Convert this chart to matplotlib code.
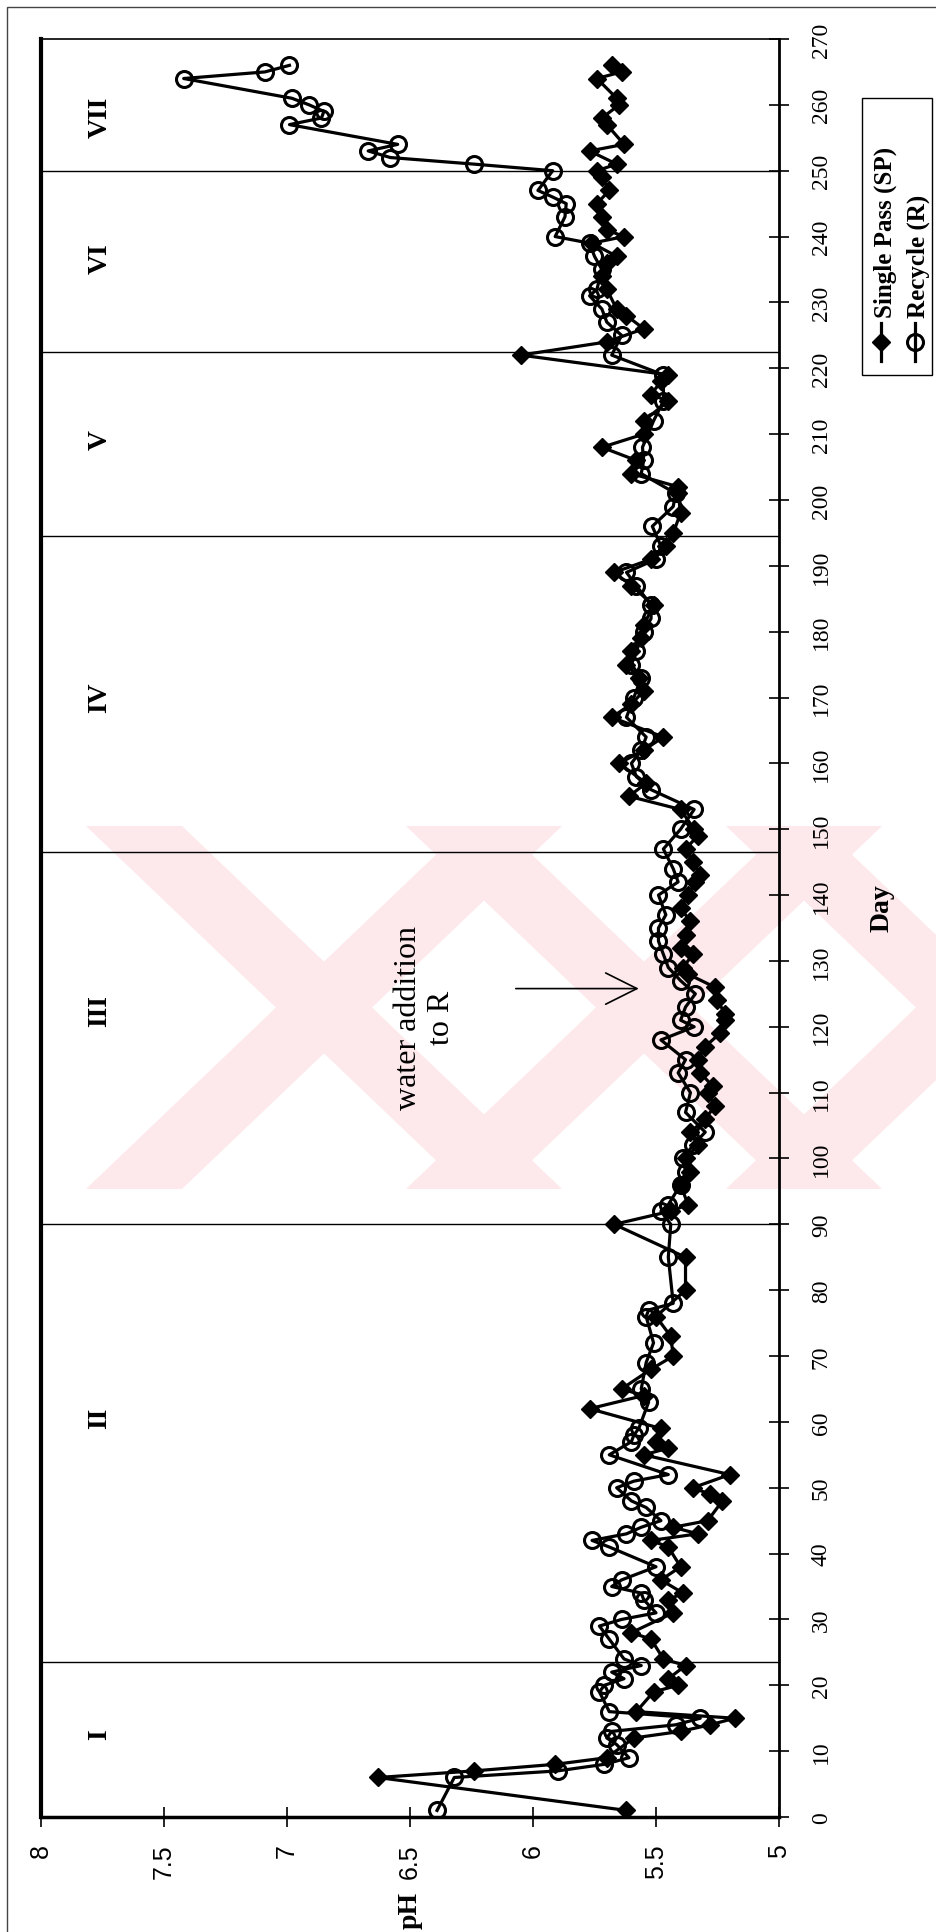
import matplotlib
matplotlib.use("Agg")
import matplotlib.pyplot as plt
from matplotlib.patches import Rectangle, Polygon
from matplotlib.lines import Line2D

W, H = 937, 1933

# ---- data ----
SP_DAY = [1, 6, 7, 8, 9, 12, 13, 14, 15, 16, 19, 20, 21, 23, 24, 27, 28, 31, 33, 34,
          36, 38, 41, 42, 43, 44, 45, 48, 49, 50, 52, 55, 56, 57, 59, 62, 64, 65, 68, 70,
          73, 76, 80, 85, 90, 92, 93, 96, 98, 100, 102, 104, 106, 108, 110, 111, 113, 115, 117, 119,
          121, 122, 124, 126, 128, 129, 131, 132, 134, 136, 138, 140, 142, 143, 145, 147, 149, 150, 153, 155,
          157, 160, 162, 164, 167, 169, 171, 173, 175, 177, 179, 181, 184, 187, 189, 191, 193, 195, 198, 201,
          202, 204, 206, 208, 210, 212, 215, 216, 218, 219, 222, 224, 226, 228, 229, 232, 234, 236, 237, 239,
          240, 241, 243, 245, 247, 249, 250, 251, 253, 254, 257, 258, 260, 261, 264, 265, 266]
SP_PH = [5.62, 6.63, 6.24, 5.91, 5.70, 5.59, 5.40, 5.28, 5.18, 5.58, 5.51, 5.41, 5.45, 5.38, 5.47, 5.52, 5.60, 5.43, 5.45, 5.39,
         5.48, 5.40, 5.45, 5.52, 5.33, 5.43, 5.29, 5.23, 5.28, 5.35, 5.20, 5.55, 5.45, 5.50, 5.48, 5.77, 5.55, 5.64, 5.52, 5.43,
         5.44, 5.50, 5.38, 5.38, 5.67, 5.44, 5.37, 5.40, 5.36, 5.38, 5.33, 5.36, 5.30, 5.26, 5.29, 5.27, 5.32, 5.33, 5.30, 5.24,
         5.22, 5.22, 5.25, 5.26, 5.37, 5.39, 5.35, 5.40, 5.38, 5.36, 5.40, 5.37, 5.34, 5.32, 5.35, 5.38, 5.33, 5.345, 5.40, 5.61,
         5.54, 5.65, 5.55, 5.47, 5.68, 5.60, 5.55, 5.57, 5.62, 5.60, 5.56, 5.55, 5.51, 5.60, 5.67, 5.52, 5.46, 5.43, 5.40, 5.41,
         5.41, 5.60, 5.58, 5.72, 5.55, 5.55, 5.45, 5.52, 5.48, 5.45, 6.05, 5.70, 5.55, 5.62, 5.66, 5.70, 5.72, 5.70, 5.66, 5.76,
         5.63, 5.70, 5.72, 5.74, 5.69, 5.72, 5.74, 5.66, 5.77, 5.63, 5.70, 5.72, 5.65, 5.66, 5.74, 5.64, 5.68]

R_DAY = [1, 6, 7, 8, 9, 11, 12, 13, 14, 15, 16, 19, 20, 21, 22, 23, 24, 27, 29, 30,
         31, 33, 34, 35, 36, 38, 41, 42, 43, 44, 45, 47, 48, 50, 51, 52, 55, 57, 58, 59,
         63, 65, 69, 72, 76, 77, 78, 85, 90, 92, 93, 96, 98, 100, 102, 104, 107, 110, 113, 115,
         118, 120, 121, 123, 125, 127, 129, 131, 133, 135, 137, 140, 142, 144, 147, 150, 153, 156, 158, 160,
         162, 164, 167, 170, 173, 175, 177, 180, 182, 184, 187, 189, 191, 193, 196, 199, 201, 204, 206, 208,
         212, 215, 219, 222, 225, 227, 229, 231, 232, 235, 237, 239, 240, 243, 245, 246, 247, 250, 251, 252,
         253, 254, 257, 258, 259, 260, 261, 264, 265, 266]
R_PH = [6.39, 6.32, 5.90, 5.71, 5.61, 5.66, 5.70, 5.68, 5.42, 5.32, 5.69, 5.73, 5.71, 5.63, 5.68, 5.56, 5.63, 5.69, 5.73, 5.64,
        5.50, 5.55, 5.56, 5.68, 5.64, 5.50, 5.69, 5.76, 5.62, 5.56, 5.48, 5.54, 5.60, 5.66, 5.59, 5.45, 5.69, 5.60, 5.59, 5.57,
        5.53, 5.56, 5.54, 5.51, 5.54, 5.53, 5.43, 5.45, 5.44, 5.48, 5.45, 5.40, 5.38, 5.39, 5.35, 5.30, 5.38, 5.36, 5.41, 5.38,
        5.48, 5.345, 5.40, 5.38, 5.34, 5.40, 5.45, 5.47, 5.49, 5.49, 5.46, 5.49, 5.41, 5.43, 5.47, 5.40, 5.345, 5.52, 5.58, 5.60,
        5.56, 5.54, 5.62, 5.59, 5.56, 5.60, 5.58, 5.55, 5.52, 5.52, 5.58, 5.62, 5.50, 5.48, 5.515, 5.43, 5.42, 5.56, 5.55, 5.555,
        5.51, 5.47, 5.47, 5.68, 5.64, 5.70, 5.72, 5.77, 5.74, 5.72, 5.75, 5.77, 5.91, 5.87, 5.865, 5.92, 5.98, 5.92, 6.24, 6.58,
        6.67, 6.55, 6.99, 6.86, 6.85, 6.91, 6.98, 7.42, 7.09, 6.99]

PHASE_BOUNDS = [23.5, 90, 146.5, 194.5, 222.5, 250]
PHASE_NAMES = ["I", "II", "III", "IV", "V", "VI", "VII"]
PHASE_LABEL_DAY = [12.6, 60.7, 122.5, 170.2, 209.3, 236.8, 258.3]
PHASE_LABEL_PH = 7.76

PH_TICKS = [8, 7.5, 7, 6.5, 6, 5.5, 5]
PH_TICK_LABELS = ["8", "7.5", "7", "6.5", "6", "5.5", "5"]
DAY_TICKS = list(range(0, 271, 10))

NOTE_TEXT = "water addition\nto R"
NOTE_POS = (6.44, 121.5)
ARROW_FROM = (6.07, 125.8)
ARROW_TO = (5.57, 125.8)

SERIF = ["Liberation Serif", "DejaVu Serif"]
SANS = ["Liberation Sans", "DejaVu Sans"]
PINK = "#fde8ec"

SP_STYLE = dict(color="black", lw=2.3, marker="D", markersize=9.5,
                markerfacecolor="black", markeredgecolor="black")
R_STYLE = dict(color="black", lw=2.3, marker="o", markersize=11.5,
               markerfacecolor="none", markeredgecolor="black", markeredgewidth=2.2)


def fx(px):
    return px / W


def fy(py):
    return 1 - py / H


fig = plt.figure(figsize=(W / 100, H / 100), dpi=100)
fig.patch.set_facecolor("white")

# outer chart border (top and left visible in the scan)
fig.add_artist(Rectangle((fx(7), fy(1990)), fx(1000), fy(8) - fy(1990),
                         transform=fig.transFigure, fill=False,
                         edgecolor="#444", lw=1.0, zorder=-3))

# faint thesis watermark: big X shapes of pink stripes
top, bot, half, w = 827, 1190, 190, 48
for cx in (324, 644, 964):
    for sign in (1, -1):
        pts = [(cx - sign * half - w, top), (cx - sign * half + w, top),
               (cx + sign * half + w, bot), (cx + sign * half - w, bot)]
        fig.add_artist(Polygon([(fx(a), fy(b)) for a, b in pts], closed=True,
                               transform=fig.transFigure, facecolor=PINK,
                               edgecolor="none", zorder=-2))

ax = fig.add_axes([fx(41), fy(1818), fx(779) - fx(41), fy(40) - fy(1818)])
ax.set_facecolor("none")
ax.set_xlim(8, 5)
ax.set_ylim(0, 270)

for d in PHASE_BOUNDS:
    ax.axhline(d, color="black", lw=1.0, zorder=1)

ax.plot(R_PH, R_DAY, zorder=3, **R_STYLE)
ax.plot(SP_PH, SP_DAY, zorder=4, **SP_STYLE)

for name, d in zip(PHASE_NAMES, PHASE_LABEL_DAY):
    ax.text(PHASE_LABEL_PH, d, name, rotation=90, ha="center", va="center",
            fontsize=20, fontweight="bold", family=SERIF)

ax.text(*NOTE_POS, NOTE_TEXT, rotation=90, ha="center", va="center",
        multialignment="center", fontsize=23, family=SERIF, linespacing=1.2)
ax.annotate("", xy=ARROW_TO, xytext=ARROW_FROM,
            arrowprops=dict(arrowstyle="->,head_length=1.5,head_width=0.75",
                            lw=1.2, color="black", shrinkA=0, shrinkB=0,
                            mutation_scale=15))

ax.set_xticks(PH_TICKS)
ax.set_xticklabels(PH_TICK_LABELS, rotation=90, family=SANS, fontsize=18)
ax.yaxis.tick_right()
ax.set_yticks(DAY_TICKS)
ax.set_yticklabels([str(d) for d in DAY_TICKS], rotation=90, family=SERIF, fontsize=17)
for lab in ax.get_yticklabels():
    lab.set_va("center")
ax.tick_params(axis="x", direction="inout", length=14, width=1.2, pad=12)
ax.tick_params(axis="y", direction="inout", length=14, width=1.2, pad=16)

ax.spines["left"].set_linewidth(3.0)
ax.spines["bottom"].set_linewidth(2.5)
ax.spines["right"].set_linewidth(2.0)
ax.spines["top"].set_linewidth(1.2)

fig.text(fx(410), fy(1910), "pH", rotation=90, ha="center", va="center",
         fontsize=20, fontweight="bold", family=SERIF)
fig.text(fx(882), fy(908), "Day", rotation=90, ha="center", va="center",
         fontsize=20, fontweight="bold", family=SERIF)

# legend, built by hand because its text is rotated
fig.add_artist(Rectangle((fx(862), fy(376)), fx(932) - fx(862), fy(99) - fy(376),
                         transform=fig.transFigure, fill=False, edgecolor="black",
                         lw=1.0))
fig.add_artist(Line2D([fx(881)] * 3, [fy(362), fy(343), fy(324)],
                      transform=fig.transFigure, markevery=[1], **SP_STYLE))
fig.add_artist(Line2D([fx(915)] * 3, [fy(362), fy(343), fy(324)],
                      transform=fig.transFigure, markevery=[1], **R_STYLE))
fig.text(fx(885), fy(318), "Single Pass (SP)", rotation=90, ha="center", va="bottom",
         fontsize=18, fontweight="bold", family=SERIF)
fig.text(fx(918), fy(318), "Recycle (R)", rotation=90, ha="center", va="bottom",
         fontsize=18, fontweight="bold", family=SERIF)

fig.savefig("out.png", dpi=100)
